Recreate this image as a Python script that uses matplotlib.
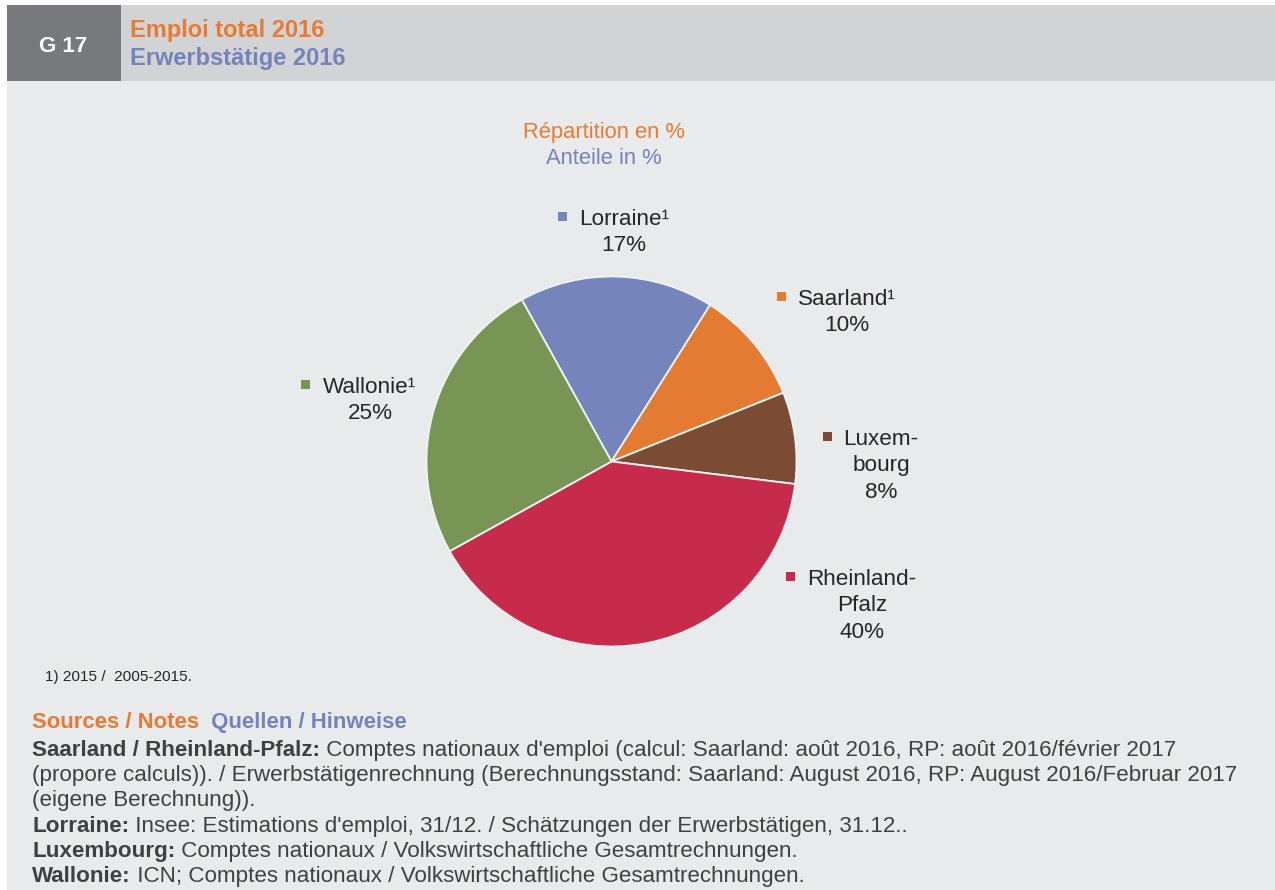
import matplotlib.pyplot as plt
from matplotlib.patches import Rectangle

plt.rcParams['font.family'] = ['Liberation Sans', 'DejaVu Sans']

# Employment shares 2016 (%)
regions = ['Lorraine¹', 'Saarland¹', 'Luxem-\nbourg', 'Rheinland-\nPfalz', 'Wallonie¹']
shares = [17, 10, 8, 40, 25]
colors = ['#7584ba', '#e47b33', '#7b4b33', '#c72b4c', '#789555']

# label anchors in pixels: (text centre x, first baseline y, square x)
label_pos = [(624, 225, 562), (847, 305, 781), (881, 445, 827),
             (862, 585, 790), (370, 393, 305)]

title_fr = 'Emploi total 2016'
title_de = 'Erwerbstätige 2016'
sub_fr = 'Répartition en %'
sub_de = 'Anteile in %'
footnote = '1) 2015 /  2005-2015.'
notes = [
    [('Saarland / Rheinland-Pfalz:', 'bold'),
     (" Comptes nationaux d'emploi (calcul: Saarland: août 2016, RP: août 2016/février 2017", 'normal')],
    [('(propore calculs)). / Erwerbstätigenrechnung (Berechnungsstand: Saarland: August 2016, RP: August 2016/Februar 2017', 'normal')],
    [('(eigene Berechnung)).', 'normal')],
    [('Lorraine:', 'bold'),
     (" Insee: Estimations d'emploi, 31/12. / Schätzungen der Erwerbstätigen, 31.12..", 'normal')],
    [('Luxembourg:', 'bold'),
     (' Comptes nationaux / Volkswirtschaftliche Gesamtrechnungen.', 'normal')],
    [('Wallonie:', 'bold'),
     (' ICN; Comptes nationaux / Volkswirtschaftliche Gesamtrechnungen.', 'normal')],
]

ORANGE = '#e87a33'
BLUE = '#7483bd'
TXT = '#3f4043'

W, H = 1275, 890
fig = plt.figure(figsize=(W / 100, H / 100), dpi=100, facecolor='white')
bg = fig.add_axes([0, 0, 1, 1])
bg.set_xlim(0, W)
bg.set_ylim(H, 0)
bg.axis('off')

# panels
bg.add_patch(Rectangle((7, 5), W - 7, H - 5, color='#e9eaec', lw=0))
bg.add_patch(Rectangle((7, 5), W - 7, 76, color='#d2d3d5', lw=0))
bg.add_patch(Rectangle((7, 5), 114, 76, color='#78797d', lw=0))

bg.text(63, 52, 'G 17', color='white', fontsize=16, fontweight='bold',
        ha='center', va='baseline')
bg.text(130, 37, title_fr, color=ORANGE, fontsize=17, fontweight='bold', va='baseline')
bg.text(130, 65, title_de, color=BLUE, fontsize=17, fontweight='bold', va='baseline')

bg.text(603.5, 138, sub_fr, color=ORANGE, fontsize=15.8, ha='center', va='baseline')
bg.text(603.5, 164, sub_de, color=BLUE, fontsize=15.8, ha='center', va='baseline')

# pie
cx, cy, r = 611.5, 461.5, 185
pax = fig.add_axes([(cx - r) / W, (H - cy - r) / H, 2 * r / W, 2 * r / H])
pax.pie(shares, colors=colors, startangle=119, counterclock=False,
        wedgeprops=dict(edgecolor='#f2f2f2', linewidth=1.3))
pax.set_xlim(-1, 1)
pax.set_ylim(-1, 1)
pax.set_aspect('equal')
pax.patch.set_alpha(0)

# data labels: coloured square + name + value
for name, val, col, (tx, ty, sx) in zip(regions, shares, colors, label_pos):
    lines = name.split('\n') + [f'{val}%']
    for i, line in enumerate(lines):
        bg.text(tx, ty + i * 26.3, line, fontsize=16.2, color='#262626',
                ha='center', va='baseline')
    bg.add_patch(Rectangle((sx - 4.5, ty - 13.5), 9, 9, color=col, lw=0))

bg.text(45, 681, footnote, fontsize=11.1, color='#262626', va='baseline')

fig.canvas.draw()
renderer = fig.canvas.get_renderer()


def draw_line(x, y, parts, size):
    for txt, weight, col in parts:
        t = bg.text(x, y, txt, fontsize=size, fontweight=weight, color=col,
                    va='baseline')
        x = t.get_window_extent(renderer).x1


draw_line(32, 728, [('Sources / Notes', 'bold', ORANGE),
                    ('  Quellen / Hinweise', 'bold', BLUE)], 15.9)
for i, parts in enumerate(notes):
    draw_line(32, 756 + i * 25.2, [(t, w, TXT) for t, w in parts], 16.1)

fig.savefig('out.png', dpi=100, facecolor=fig.get_facecolor())
